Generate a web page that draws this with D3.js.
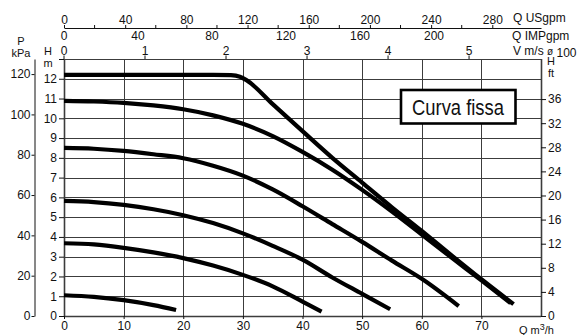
<!DOCTYPE html>
<html><head><meta charset="utf-8">
<script src="https://cdn.jsdelivr.net/npm/d3@7"></script>
<style>
html,body{margin:0;padding:0;background:#fff;}
svg{display:block;font-family:"Liberation Sans",Arial,Helvetica,sans-serif;}
text{fill:#111;}
</style></head><body>
<svg id="c" width="578" height="335"></svg>
<script>
// ---- data ----
const qTicks = [0,10,20,30,40,50,60,70];
const hTicks = [0,1,2,3,4,5,6,7,8,9,10,11,12];
const kpaTicks = [0,20,40,60,80,100,120];
const ftTicks = [0,4,8,12,16,20,24,28,32,36];
const usgpmLabels = [0,40,80,120,160,200,240,280];
const usgpmMinor = [20,60,100,140,180,220,260];
const impLabels = [0,40,80,120,160,200];
const vLabels = [0,1,2,3,4,5];
// conversion factors
const USGPM_PER_M3H = 3.898;
const IMP_PER_M3H = 3.223;
const V_PER_M3H = 0.0736;
const KPA_PER_M = 9.80665;
const FT_PER_M = 3.28084;

const curveFixed = [[0,12.2],[25,12.2],[28,12.18],[29.5,12.1],[30.6,11.93],[35,10.72],[40,9.35],[45,8.0],[50,6.75],[55,5.5],[60,4.3],[65,3.07],[70,1.86],[75.4,0.6]];
const curve2 = [[0,10.88],[5,10.85],[10,10.78],[15,10.65],[20,10.46],[25,10.15],[30,9.72],[35,9.1],[40,8.3],[45,7.4],[50,6.38],[55,5.28],[60,4.12],[65,2.95],[70,1.8],[74.9,0.65]];
const curve3 = [[0,8.5],[5,8.46],[10,8.35],[15,8.18],[20,7.98],[25,7.6],[30,7.1],[35,6.4],[40,5.55],[45,4.65],[50,3.75],[55,2.8],[60,1.88],[66.2,0.5]];
const curve4 = [[0,5.82],[5,5.76],[10,5.62],[15,5.4],[20,5.1],[25,4.7],[30,4.18],[35,3.55],[40,2.85],[45,1.95],[50,1.12],[54.7,0.34]];
const curve5 = [[0,3.68],[5,3.62],[10,3.45],[15,3.22],[20,2.93],[25,2.55],[30,2.08],[35,1.5],[40,0.73],[43.2,0.22]];
const curve6 = [[0,1.05],[5,0.97],[10,0.8],[15,0.55],[18.8,0.3]];
const curves = [curveFixed, curve2, curve3, curve4, curve5, curve6];
const legendText = "Curva fissa";

// ---- scales ----
const svg = d3.select("#c");
const x = d3.scaleLinear().domain([0,80]).range([64,541]);
const y = d3.scaleLinear().domain([0,13]).range([316,59]);
const yKpa = d3.scaleLinear().domain([0,13*KPA_PER_M]).range(y.range());
const yFt = d3.scaleLinear().domain([0,13*FT_PER_M]).range(y.range());
const xUs = d3.scaleLinear().domain([0,80*USGPM_PER_M3H]).range(x.range());
const xImp = d3.scaleLinear().domain([0,80*IMP_PER_M3H]).range(x.range());
const xV = d3.scaleLinear().domain([0,80*V_PER_M3H]).range(x.range());

const fs = 12;
const gridCol = "#3c3c3c";

// grid
const g = svg.append("g");
g.selectAll("line.h").data(d3.range(0,14)).join("line")
  .attr("x1",x(0)).attr("x2",x(80))
  .attr("y1",d=>Math.round(y(d))+0.5).attr("y2",d=>Math.round(y(d))+0.5)
  .attr("stroke",gridCol).attr("stroke-width",d=> (d===0?1.6:1));
g.selectAll("line.v").data(d3.range(0,90,10)).join("line")
  .attr("y1",y(0)).attr("y2",y(13))
  .attr("x1",d=>Math.round(x(d))+0.5).attr("x2",d=>Math.round(x(d))+0.5)
  .attr("stroke",gridCol).attr("stroke-width",d=>(d===0||d===80)?1.6:1);

// bottom axis
const bx = svg.append("g").attr("transform",`translate(0,${y(0)})`)
  .call(d3.axisBottom(x).tickValues(qTicks).tickSize(3).tickPadding(2));
bx.select(".domain").remove();
// left H m axis
const lh = svg.append("g").attr("transform",`translate(${x(0)},0)`)
  .call(d3.axisLeft(y).tickValues(d3.range(0,14)).tickFormat(d=>d===13?"":d).tickSize(5).tickPadding(2));
lh.select(".domain").remove();
// left kPa axis
const lk = svg.append("g").attr("transform",`translate(34.5,0)`)
  .call(d3.axisLeft(yKpa).tickValues(kpaTicks).tickSize(3).tickPadding(1).tickSizeOuter(0));
// right ft axis
const rf = svg.append("g").attr("transform",`translate(${x(80)},0)`)
  .call(d3.axisRight(yFt).tickValues(ftTicks).tickSize(5).tickPadding(2).tickSizeOuter(0));
rf.select(".domain").remove();
// top USgpm axis
const tu = svg.append("g").attr("transform",`translate(0,28)`)
  .call(d3.axisTop(xUs).tickValues(usgpmLabels).tickSize(3).tickPadding(1).tickSizeOuter(0));
tu.selectAll(".minor").data(usgpmMinor).join("line").attr("class","minor")
  .attr("x1",d=>xUs(d)).attr("x2",d=>xUs(d)).attr("y1",0).attr("y2",-3).attr("stroke","#111");
// IMP labels
svg.append("g").selectAll("text").data(impLabels).join("text")
  .attr("x",d=>xImp(d)).attr("y",40).attr("text-anchor","middle").attr("font-size",fs).text(d=>d);
// V labels
const tv = svg.append("g");
tv.selectAll("text").data(vLabels).join("text")
  .attr("x",d=>xV(d)).attr("y",54.5).attr("text-anchor","middle").attr("font-size",fs).text(d=>d);
tv.selectAll("line").data(vLabels).join("line")
  .attr("x1",d=>xV(d)).attr("x2",d=>xV(d)).attr("y1",y(13)-3.5).attr("y2",y(13)).attr("stroke","#111");

svg.selectAll(".tick text").attr("font-size",fs).attr("font-family","Liberation Sans, Arial, sans-serif").attr("fill","#111");
svg.selectAll(".tick line, .domain").attr("stroke","#111");

// axis titles
const t = (txt,xx,yy,anchor="start",size=fs)=>svg.append("text").attr("x",xx).attr("y",yy).attr("text-anchor",anchor).attr("font-size",size).text(txt);
t("P",21,45,"middle",11);
t("kPa",21,56.5,"middle",11);
t("H",48,55,"middle",11);
t("m",48,66.5,"middle",11);
t("H",551,65,"middle",11);
t("ft",551,76.5,"middle",11);
t("Q USgpm",513,22);
t("Q IMPgpm",512,40);
const vt = svg.append("text").attr("x",513).attr("y",54.5).attr("font-size",fs);
vt.append("tspan").text("V m/s ");
vt.append("tspan").attr("font-size",10).text("ø");
vt.append("tspan").attr("dy",2).text(" 100");
const qt = svg.append("text").attr("x",519).attr("y",333.5).attr("font-size",11);
qt.append("tspan").text("Q m");
qt.append("tspan").attr("dy",-4).attr("font-size",9).text("3");
qt.append("tspan").attr("dy",4).text("/h");

// curves
const line = d3.line().x(d=>x(d[0])).y(d=>y(d[1])).curve(d3.curveMonotoneX);
svg.append("g").selectAll("path").data(curves).join("path")
  .attr("d",line).attr("fill","none").attr("stroke","#000")
  .attr("stroke-width",4.2).attr("stroke-linejoin","round");

// legend box
const lg = svg.append("g");
lg.append("rect").attr("x",401).attr("y",90).attr("width",114.5).attr("height",33.5)
  .attr("fill","#fff").attr("stroke","#000").attr("stroke-width",2.6);
lg.append("text").attr("x",458).attr("y",115).attr("text-anchor","middle")
  .attr("font-size",22.5).attr("font-family","Liberation Sans Narrow, Arial Narrow, Liberation Sans, sans-serif")
  .attr("textLength",92).attr("lengthAdjust","spacingAndGlyphs").text(legendText);
</script>
</body></html>
